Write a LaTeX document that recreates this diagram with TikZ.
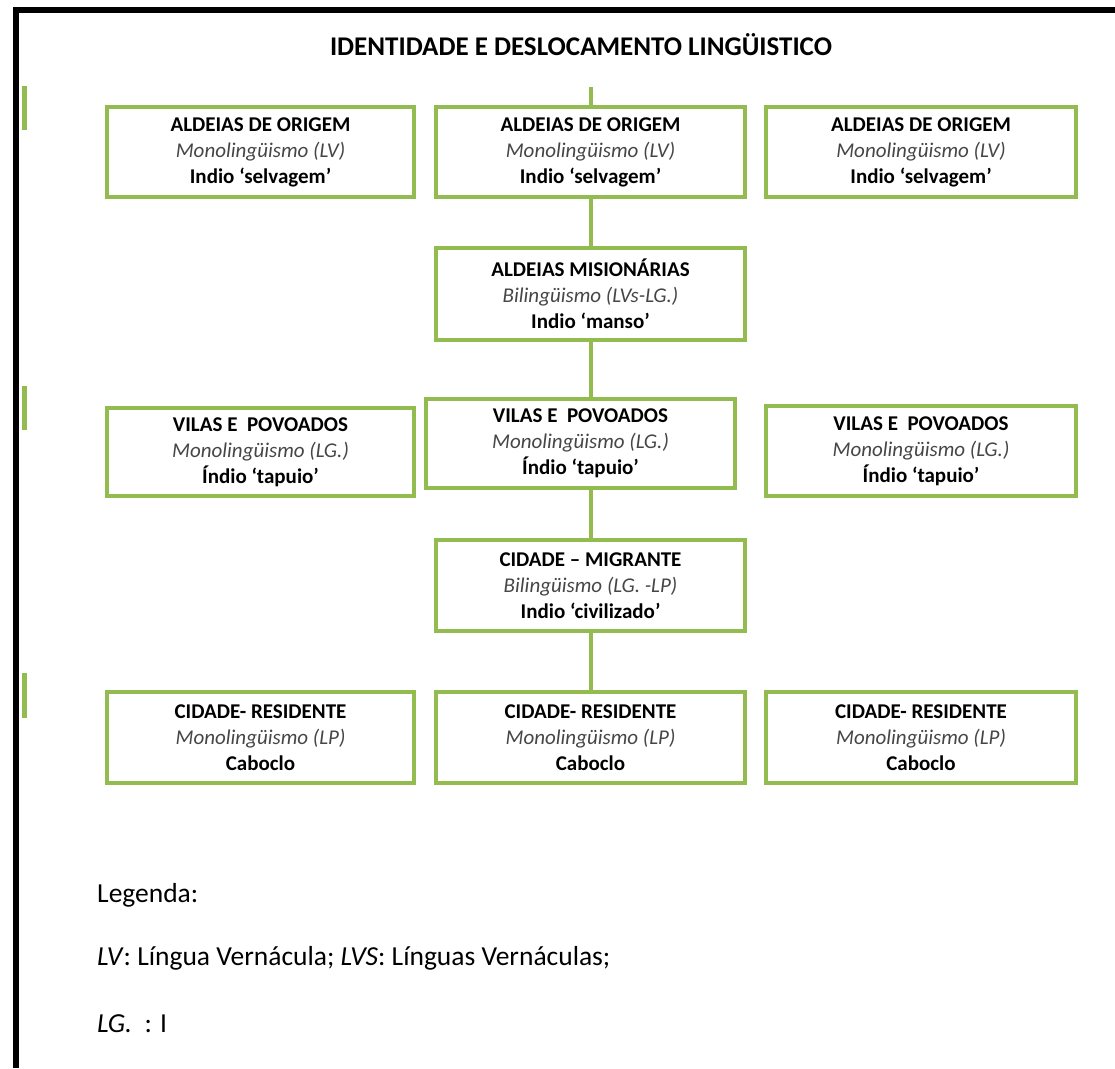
\documentclass[tikz,border=0pt]{standalone}
\usepackage{fontspec}
\setmainfont{Carlito}
\definecolor{boxgreen}{RGB}{146,188,80}
\definecolor{ittext}{RGB}{70,70,70}
\begin{document}
\begin{tikzpicture}[x=1pt,y=-1pt,
  stage/.style={draw=boxgreen,line width=4pt,fill=white,align=center,inner sep=0pt,
    minimum width=307pt,minimum height=90pt,font=\fontsize{21}{26}\selectfont},
  link/.style={draw=boxgreen,line width=4pt},
  sidemark/.style={draw=boxgreen,line width=5pt},
  frameline/.style={draw=black,line width=6pt},
  legend/.style={anchor=base west,inner sep=0pt,font=\fontsize{27.5}{30}\selectfont}]
\useasboundingbox (0,0) rectangle (1115,1068);
\fill[white] (0,0) rectangle (1115,1068);
% frame
\draw[frameline] (16,1068) -- (16,10) -- (1115,10);
% left marks
\draw[sidemark] (24,86) -- (24,130);
\draw[sidemark] (24,386) -- (24,430);
\draw[sidemark] (24,673) -- (24,718);
% title
\node[font=\fontsize{27}{30}\selectfont\bfseries] (title) at (581,45) {IDENTIDADE E DESLOCAMENTO LINGÜISTICO};
% row 1
\newcommand{\aldeia}{\textbf{ALDEIAS DE ORIGEM}\\{\color{ittext}\itshape Monolingüismo (LV)}\\\textbf{Indio ‘selvagem’}}
\node[stage] (a1) at (260.5,152) {\aldeia};
\node[stage,minimum width=309pt] (a2) at (590.5,152) {\aldeia};
\node[stage,minimum width=310pt] (a3) at (921,152) {\aldeia};
% row 2
\node[stage,minimum width=309pt,minimum height=92pt] (m) at (590.5,294) {\textbf{ALDEIAS MISIONÁRIAS}\\{\color{ittext}\itshape Bilingüismo (LVs-LG.)}\\\textbf{Indio ‘manso’}};
% row 3
\node[stage,minimum height=88pt] (v1) at (260.5,452) {\textbf{VILAS E \ POVOADOS}\\{\color{ittext}\itshape Monolingüismo (LG.)}\\\textbf{Índio ‘tapuio’}};
\node[stage,minimum width=309pt,minimum height=89pt] (v2) at (580.5,443.5) {\textbf{VILAS E \ POVOADOS}\\{\color{ittext}\itshape Monolingüismo (LG.)}\\\textbf{Índio ‘tapuio’}};
\node[stage,minimum width=310pt] (v3) at (921,451) {\textbf{VILAS E \ POVOADOS}\\{\color{ittext}\itshape Monolingüismo (LG.)}\\\textbf{Índio ‘tapuio’}};
% row 4
\node[stage,minimum width=309pt,minimum height=91pt] (c) at (590.5,585.5) {\textbf{CIDADE – MIGRANTE}\\{\color{ittext}\itshape Bilingüismo (LG. -LP)}\\\textbf{Indio ‘civilizado’}};
% row 5
\newcommand{\residente}{\textbf{CIDADE- RESIDENTE}\\{\color{ittext}\itshape Monolingüismo (LP)}\\\textbf{Caboclo}}
\node[stage,minimum height=91pt] (r1) at (260.5,737.5) {\residente};
\node[stage,minimum width=309pt,minimum height=91pt] (r2) at (590.5,737.5) {\residente};
\node[stage,minimum width=310pt,minimum height=91pt] (r3) at (921,737.5) {\residente};
% connectors
\coordinate (top) at (590.5,87);
\draw[link] (top) -- (a2.north);
\draw[link] (a2.south) -- (m.north);
\draw[link] (m.south) -- (m.south |- v2.north);
\draw[link] (c.north |- v2.south) -- (c.north);
\draw[link] (c.south) -- (r2.north);
% legend
\node[legend] (l1) at (97,902) {Legenda:};
\node[legend] (l2) at (97,965) {\textit{LV}: Língua Vernácula; \textit{LVS}: Línguas Vernáculas;};
\node[legend] (l3) at (97,1032) {\textit{LG.}\ \ : I};
\end{tikzpicture}
\end{document}
